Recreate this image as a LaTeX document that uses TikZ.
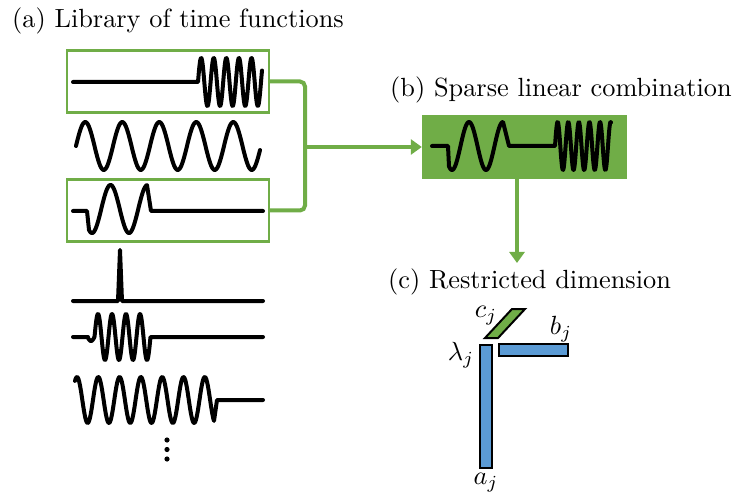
\documentclass[tikz,border=0pt]{standalone}
\usetikzlibrary{arrows.meta}
\definecolor{mygreen}{HTML}{70AD47}
\definecolor{myblue}{HTML}{5B9BD5}
\newcommand{\bigtxt}[1]{\scalebox{2.63}{\fontsize{10}{12}\selectfont #1}}
\begin{document}
\begin{tikzpicture}[x=1pt,y=-1pt,
  wave/.style={line width=4pt, line join=round, line cap=round},
  libbox/.style={draw=mygreen, line width=2.2pt, minimum width=202pt, minimum height=62pt, inner sep=0pt},
  link/.style={draw=mygreen, line width=4pt},
  title/.style={anchor=base west, inner sep=0pt},
  lab/.style={inner sep=0pt},
  factor/.style={draw=black, line width=2pt, fill=myblue}
]
\useasboundingbox (0,0) rectangle (733,494);

% titles
\node[title] (ta) at (12,28) {\bigtxt{(a) Library of time functions}};
\node[title] (tb) at (390,97) {\bigtxt{(b) Sparse linear combination}};
\node[title] (tc) at (388,288) {\bigtxt{(c) Restricted dimension}};

% library boxes
\node[libbox] (box1) at (168,81.5) {};
\node[libbox] (box2) at (168,210.5) {};

% wave 1
\draw[wave] (73,82) -- (198,82) -- plot[domain=198:262, samples=250, smooth] (\x, {82 - 24*sin((\x-198)*28.5714)});
% wave 2
\draw[wave] plot[domain=76:260, samples=200, smooth] (\x, {146 - 24*sin((\x-76)*9.7297)});
% wave 3
\draw[wave] (73,211) -- (87,211) -- plot[domain=89:147, samples=120, smooth] (\x, {209 + 24*cos((\x-92)*9.7297)}) -- (151,211) -- (263,211);
% wave 4 spike
\draw[wave] (73,301) -- (118,301) -- (120,250) -- (122,301) -- (263,301);
% wave 5
\draw[wave] (73,337) -- (88,337) -- plot[domain=88:150.5, samples=200, smooth] (\x, {337 - (\x<94.5 ? 4 : 23)*sin((\x-94.5)*25.7143)}) -- (263,337);
% wave 6
\draw[wave] plot[domain=75:214, samples=200, smooth] (\x, {400 - 23*cos((\x-77)*16.9014)}) -- (217,400) -- (263,400);
% dots
\fill (167,440) circle (2.6);
\fill (167,449.5) circle (2.6);
\fill (167,459) circle (2.6);

% combination box
\node[fill=mygreen, minimum width=205pt, minimum height=64pt, inner sep=0pt] (boxb) at (524.5,147) {};
\draw[wave] (432,146) -- (448,146) -- plot[domain=449:503, samples=120, smooth] (\x, {146 + 24*cos((\x-452)*10.5882)}) -- (509,146) -- (555,146) -- plot[domain=555:611, samples=250, smooth] (\x, {146 - 24*sin((\x-555)*33.9623)});

% connectors
\coordinate (jn) at (305,147);
\draw[link, rounded corners=5pt] (box1.east) -- (305,81.5) -- (305,210.5) -- (box2.east);
\draw[link, -{Triangle[length=11pt,width=15pt]}] (jn) -- (boxb.west);
\coordinate (tip) at (517,263);
\draw[link, -{Triangle[length=11pt,width=15pt]}] (boxb.south -| tip) -- (tip);

% factors
\draw[factor] (480,345) rectangle (492,468);
\draw[factor] (499,344) rectangle (568,356);
\draw[factor, fill=mygreen, line join=miter] (485,338) -- (498,338) -- (525,309) -- (512,309) -- cycle;
\node[lab] (lc) at (486,316) {\bigtxt{$c_j$}};
\node[lab] (lb) at (561,329) {\bigtxt{$b_j$}};
\node[lab] (ll) at (461,355) {\bigtxt{$\lambda_j$}};
\node[lab] (la) at (486,483) {\bigtxt{$a_j$}};
\end{tikzpicture}
\end{document}
